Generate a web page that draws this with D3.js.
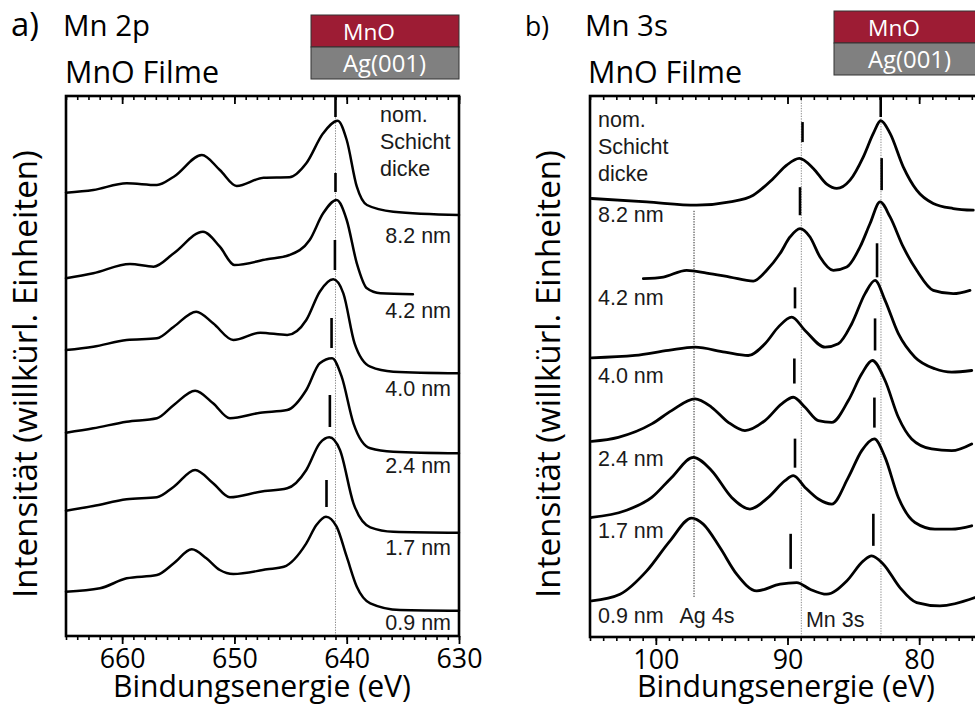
<!DOCTYPE html>
<html>
<head>
<meta charset="utf-8">
<script src="https://cdn.jsdelivr.net/npm/d3@7"></script>
<style>
  html, body { margin: 0; padding: 0; background: #fff; }
  svg { display: block; }
</style>
</head>
<body>
<svg id="chart" width="975" height="706"></svg>
<script>
// ---------- Mn 2p spectra (binding energy eV, intensity arb. units incl. stacking offset) ----------
const mn2p_82 = [[665,443.3],[662.57,446],[659.6,452.7],[656.9,451],[655.4,459.3],[652.9,481],[651.3,466],[649.8,450],[647.4,458.3],[645.1,458.7],[643.6,472.7],[642.1,502.7],[640.8,515.3],[640.0,496],[639.1,449.3],[638.2,431],[635.85,424.3],[630,421]];
const mn2p_42 = [[665,357.7],[662.57,362.7],[659.3,372],[657.2,369.3],[655.4,382.7],[652.8,404.3],[651.3,389.3],[650.0,371],[647.1,376.7],[645.1,381],[643.3,396],[642.1,422.7],[640.9,436],[640.0,416],[639.1,372.7],[638.2,347.7],[637.0,342.7],[634.1,341.7]];
const mn2p_40 = [[665,286],[662.57,289.3],[659.6,296],[656.9,297.7],[655.4,309.3],[653.4,324.3],[651.9,312.7],[650.1,296],[647.7,303.3],[645.3,301],[643.6,316],[642.4,344.3],[641.2,356.7],[640.3,342.7],[639.3,292.7],[637.9,269.3],[635.85,264.3],[630,262.7]];
const mn2p_24 = [[665,203.3],[662.57,207.7],[659.6,214.3],[656.9,217.7],[655.4,231],[653.5,245.3],[651.9,232.7],[650.4,217.7],[647.7,223.3],[645.3,226],[643.6,246],[642.4,272.7],[641.3,277.7],[640.45,259.3],[639.4,212.7],[637.9,187.7],[635.85,184.3],[630,182.7]];
const mn2p_17 = [[665,125.3],[662.57,130],[659.6,136.7],[656.9,138.7],[655.4,149.3],[653.5,166],[651.9,152.7],[650.4,138.7],[647.7,144.3],[645.3,147.7],[643.6,166],[642.4,192.7],[641.55,198.7],[640.6,186],[639.4,132.7],[637.9,108.7],[635.85,104.3],[630,103.3]];
const mn2p_09 = [[665,44.3],[661.97,47.7],[659.6,57.7],[656.9,61],[655.4,72.7],[653.8,86.7],[652.5,77.7],[651.3,66],[650.1,62],[647.1,66.7],[645.6,69.3],[643.6,92.7],[642.7,111],[641.85,119.3],[640.9,109.3],[640.0,79.3],[639.1,49.3],[637.9,32.7],[635.25,26],[630,25.3]];

// ---------- Mn 3s / Ag 4s spectra ----------
const mn3s_82 = [[104.87,437.7],[100.69,434.3],[96.9,431],[94.37,434.3],[92.6,441],[91.08,457.7],[90.06,471],[89.1,477.7],[88.04,467.7],[87.02,452],[86.26,447.7],[85.25,456],[84.24,479.3],[83.48,502.7],[82.92,515.3],[82.21,502.7],[81.21,469.3],[80.19,446],[78.93,432.7],[77.41,427.7],[75.89,426]];
const mn3s_42 = [[100.95,357.7],[99.43,359.3],[97.66,366],[96.14,363.3],[94.37,359.3],[92.6,355.3],[91.58,366],[90.57,382.7],[89.81,399.3],[89.05,407.7],[88.29,399.3],[87.53,379.3],[86.52,366],[85.5,369.3],[84.49,389.3],[83.73,412.7],[82.97,434.3],[82.21,419.3],[81.21,389.3],[80.19,366],[78.93,346],[77.41,342.7],[76.14,346]];
const mn3s_40 = [[104.87,278.7],[101.58,281],[99.05,286],[97.03,289.3],[94.75,284.3],[92.98,281],[91.71,292.7],[90.7,309.3],[89.68,319.3],[88.67,306],[87.15,289.3],[86.14,292.7],[85.12,312.7],[84.11,342.7],[83.35,356],[82.59,336],[81.58,302.7],[80.32,279.3],[78.8,267.7],[77.53,264.3],[76.01,266]];
const mn3s_24 = [[104.87,195.3],[102.85,199.3],[100.31,212.7],[98.8,226],[97.03,237.7],[95.76,229.3],[94.5,214.3],[93.23,206],[91.71,216],[90.44,232.7],[89.56,239.3],[88.67,229.3],[87.66,216],[86.64,214.3],[85.38,236],[84.36,262.7],[83.56,276],[82.59,256],[81.58,219.3],[80.57,197.7],[79.05,187.7],[77.53,186],[76.01,192.7]];
const mn3s_17 = [[104.87,119.3],[102.34,126],[100.31,139.3],[98.8,159.3],[97.15,179.3],[95.76,166],[94.24,139.3],[92.85,127.7],[91.46,139.3],[90.19,156],[89.56,161],[88.67,149.3],[87.66,137.7],[86.64,132.7],[85.38,159.3],[84.36,186],[83.41,197.7],[82.59,179.3],[81.58,139.3],[80.32,114.3],[78.8,107.7],[77.53,107.7],[76.01,111]];
const mn3s_09 = [[104.87,36],[102.72,42.7],[100.69,66],[98.92,96],[97.28,118.7],[96.4,112.7],[95.13,89.3],[93.86,62.7],[92.34,46],[90.57,52.7],[89.3,54.3],[88.29,47.7],[87.02,42.7],[85.5,56],[84.24,76],[83.61,81],[82.72,72.7],[81.46,49.3],[80.19,34.3],[78.42,31],[75.76,39.3]];

// nominal film thickness labels, top to bottom
const thicknessLabels = ["8.2 nm", "4.2 nm", "4.0 nm", "2.4 nm", "1.7 nm", "0.9 nm"];
const labelLevelsA = [393.3, 317.7, 240.3, 163.3, 81, 6];     // baseline level of each label, panel a
const labelLevelsB = [414.3, 331, 253.3, 171, 99.3, 14.3];    // panel b
const headerLines = ["nom.", "Schicht", "dicke"];

// peak position markers: [energy, from, to]
const markersA = [[641.0,519,540],[641.0,444,463],[641.05,366,396],[641.35,288,318],[641.5,209,241],[641.8,129,156]];
const markersB3s = [[82.92,519,540],[82.85,446,478],[83.2,359,393],[83.35,286,318],[83.4,209,239],[83.48,91,123]];
const markersBsat = [[88.86,494,514],[89.05,421,449],[89.43,328,349],[89.48,253,278],[89.43,169,198],[89.76,68,103]];

// dotted reference energies: [energy, from, to]
const refLinesA = [[641.0, 0, 540]];
const refLinesB = [[97.1, 40, 426], [88.95, 0, 540], [82.9, 0, 540]];

// axes
const xDomainA = [665, 630];
const xDomainB = [105, 75];
const majorTicksA = [660, 650, 640, 630];
const majorTicksB = [100, 90, 80];
const yDomain = [0, 540];

const svg = d3.select("#chart");
const uiFont = "'Open Sans', 'Noto Sans', sans-serif";
const plotFont = "'Liberation Sans', Arial, sans-serif";
const wine = "#9d1c34";
const grey = "#808080";

// scale a text's font size so that it spans the given width
function fitWidth(sel, width) {
  const len = sel.node().getComputedTextLength();
  const fs = +sel.attr("font-size");
  if (len > 0) sel.attr("font-size", (fs * width / len).toFixed(2));
  return sel;
}

function panel(cfg) {
  const g = svg.append("g");
  const x = d3.scaleLinear().domain(cfg.xDomain).range([cfg.left, cfg.right]);
  const y = d3.scaleLinear().domain(yDomain).range([cfg.bottom, cfg.top]);

  // reference dotted lines
  cfg.refLines.forEach(([e, a, b], i) => {
    g.append("line")
      .attr("x1", x(e)).attr("x2", x(e))
      .attr("y1", y(a)).attr("y2", y(b))
      .attr("stroke", cfg.refColors ? cfg.refColors[i] : "#8a8a8a")
      .attr("stroke-width", 1)
      .attr("stroke-dasharray", "1.3,1.3");
  });

  // spectra
  const line = d3.line()
    .x(d => x(d[0])).y(d => y(d[1]))
    .curve(d3.curveMonotoneX);
  cfg.spectra.forEach(s => {
    g.append("path")
      .attr("d", line(s))
      .attr("fill", "none")
      .attr("stroke", "#000")
      .attr("stroke-width", cfg.lineWidth)
      .attr("stroke-linejoin", "round")
      .attr("stroke-linecap", "round");
  });

  // peak markers
  cfg.markers.forEach(([e, a, b]) => {
    g.append("line")
      .attr("x1", x(e)).attr("x2", x(e))
      .attr("y1", y(a)).attr("y2", y(b))
      .attr("stroke", "#000").attr("stroke-width", 2.6);
  });

  // axes: minor every 1 eV, major with labels
  const [d0, d1] = cfg.xDomain;
  const minor = d3.range(Math.min(d0, d1), Math.max(d0, d1) + 0.001, 1);
  g.append("g").attr("transform", `translate(0,${cfg.bottom})`)
    .call(d3.axisBottom(x).tickValues(minor).tickSize(4).tickFormat(""))
    .call(a => a.select(".domain").remove())
    .call(a => a.selectAll("line").attr("stroke-width", 1.6));
  const major = g.append("g").attr("transform", `translate(0,${cfg.bottom})`)
    .call(d3.axisBottom(x).tickValues(cfg.majorTicks).tickSize(8).tickFormat(d3.format("d")))
    .call(a => a.select(".domain").remove())
    .call(a => a.selectAll("line").attr("stroke-width", 1.8));
  const tickText = major.selectAll("text")
    .attr("y", 32).attr("dy", 0)
    .attr("font-family", uiFont).attr("font-size", 26).attr("fill", "#000");
  const first = d3.select(tickText.nodes()[0]);
  fitWidth(first, 46);
  tickText.attr("font-size", first.attr("font-size"));

  g.append("g").attr("transform", `translate(0,${cfg.top})`)
    .call(d3.axisTop(x).tickValues(minor).tickSize(-4).tickFormat(""))
    .call(a => a.select(".domain").remove())
    .call(a => a.selectAll("line").attr("stroke-width", 1.6));
  g.append("g").attr("transform", `translate(0,${cfg.top})`)
    .call(d3.axisTop(x).tickValues(cfg.majorTicks).tickSize(-8).tickFormat(""))
    .call(a => a.select(".domain").remove())
    .call(a => a.selectAll("line").attr("stroke-width", 1.8));

  // frame
  g.append("rect")
    .attr("x", cfg.left).attr("y", cfg.top)
    .attr("width", cfg.right - cfg.left).attr("height", cfg.bottom - cfg.top)
    .attr("fill", "none").attr("stroke", "#000").attr("stroke-width", 2.6);

  // thickness labels
  const lab = g.append("g").attr("font-family", plotFont).attr("font-size", 21.5).attr("fill", "#1a1a1a");
  headerLines.forEach((t, i) => {
    lab.append("text").attr("x", cfg.headerX).attr("y", cfg.headerY + i * 27.2).text(t);
  });
  thicknessLabels.forEach((t, i) => {
    lab.append("text")
      .attr("x", cfg.labelX).attr("y", y(cfg.labelLevels[i]))
      .attr("text-anchor", cfg.labelAnchor).text(t);
  });
  (cfg.extraLabels || []).forEach(([t, e, lvl]) => {
    lab.append("text").attr("x", x(e)).attr("y", y(lvl)).text(t);
  });

  // titles
  fitWidth(svg.append("text").attr("x", cfg.tagX).attr("y", 36)
    .attr("font-family", uiFont).attr("font-size", 28).text(cfg.tag), cfg.tagW);
  fitWidth(svg.append("text").attr("x", cfg.titleX).attr("y", 36)
    .attr("font-family", uiFont).attr("font-size", 28).text(cfg.title), cfg.titleW);
  fitWidth(svg.append("text").attr("x", cfg.subX).attr("y", 83)
    .attr("font-family", uiFont).attr("font-size", 28).text("MnO Filme"), 154);

  // layer stack legend
  const lg = svg.append("g");
  lg.append("rect").attr("x", cfg.boxX).attr("y", cfg.boxY).attr("width", cfg.boxW).attr("height", 32)
    .attr("fill", wine).attr("stroke", "#333").attr("stroke-width", 1);
  lg.append("rect").attr("x", cfg.boxX).attr("y", cfg.boxY + 32).attr("width", cfg.boxW).attr("height", 32)
    .attr("fill", grey).attr("stroke", "#333").attr("stroke-width", 1);
  fitWidth(lg.append("text").attr("x", cfg.boxTextX).attr("y", cfg.boxY + 25)
    .attr("font-family", uiFont).attr("font-size", 21).attr("fill", "#fff").text("MnO"), 52);
  fitWidth(lg.append("text").attr("x", cfg.boxTextX).attr("y", cfg.boxY + 57)
    .attr("font-family", uiFont).attr("font-size", 21).attr("fill", "#fff").text("Ag(001)"), 83);

  // axis titles
  fitWidth(svg.append("text")
    .attr("transform", `translate(${cfg.yLabelX},374) rotate(-90)`)
    .attr("text-anchor", "middle")
    .attr("font-family", uiFont).attr("font-size", 28)
    .text("Intensität (willkürl. Einheiten)"), 448);
  fitWidth(svg.append("text")
    .attr("x", cfg.xLabelX).attr("y", 697)
    .attr("text-anchor", "middle")
    .attr("font-family", uiFont).attr("font-size", 28)
    .text("Bindungsenergie (eV)"), 298);
}

panel({
  xDomain: xDomainA, majorTicks: majorTicksA,
  left: 66, right: 459, top: 96, bottom: 636,
  spectra: [mn2p_82, mn2p_42, mn2p_40, mn2p_24, mn2p_17, mn2p_09],
  lineWidth: 2.5,
  markers: markersA,
  refLines: refLinesA,
  headerX: 380, headerY: 122,
  labelX: 451, labelAnchor: "end", labelLevels: labelLevelsA,
  tag: "a)", tagX: 11, tagW: 28, title: "Mn 2p", titleX: 63, titleW: 87, subX: 65,
  boxX: 311, boxY: 15, boxW: 148, boxTextX: 343,
  yLabelX: 37, xLabelX: 262
});

panel({
  xDomain: xDomainB, majorTicks: majorTicksB,
  left: 590, right: 985, top: 96, bottom: 637,
  spectra: [mn3s_82, mn3s_42, mn3s_40, mn3s_24, mn3s_17, mn3s_09],
  lineWidth: 2.8,
  markers: markersB3s.concat(markersBsat),
  refLines: refLinesB, refColors: ["#222", "#8a8a8a", "#8a8a8a"],
  headerX: 598, headerY: 127,
  labelX: 598, labelAnchor: "start", labelLevels: labelLevelsB,
  extraLabels: [["Ag 4s", 98.2, 14.3], ["Mn 3s", 88.6, 10.3]],
  tag: "b)", tagX: 525, tagW: 24, title: "Mn 3s", titleX: 585, titleW: 83, subX: 588,
  boxX: 834, boxY: 11, boxW: 150, boxTextX: 868,
  yLabelX: 560, xLabelX: 786
});
</script>
</body>
</html>
